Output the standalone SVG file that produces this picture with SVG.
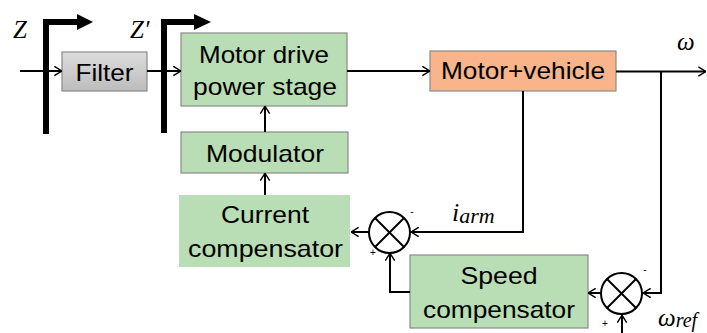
<svg xmlns="http://www.w3.org/2000/svg" width="707" height="333" viewBox="0 0 707 333">
<defs>
<linearGradient id="gray" x1="0" y1="0" x2="0" y2="1">
<stop offset="0" stop-color="#dcdcdc"/>
<stop offset="1" stop-color="#bcbcbc"/>
</linearGradient>
<marker id="arr" markerUnits="userSpaceOnUse" viewBox="0 0 10 12" refX="9.5" refY="6" markerWidth="9" markerHeight="11" orient="auto">
<path d="M1,0.8 L9.3,6 L1,11.2" fill="none" stroke="#000" stroke-width="1.6"/>
</marker>
</defs>
<style>
.box{stroke:#8a8a8a;stroke-width:1.2}
.green{fill:#b9ddb4}
.lbl{font-family:"Liberation Sans",Arial,sans-serif;font-size:24px;fill:#000;text-anchor:middle}
.math{font-family:"Liberation Serif","DejaVu Serif",serif;font-style:italic;fill:#000}
.sign{font-family:"Liberation Sans",Arial,sans-serif;font-size:10px;fill:#000;text-anchor:middle}
.conn{fill:none;stroke:#000;stroke-width:2;marker-end:url(#arr)}
.thick{fill:none;stroke:#000;stroke-width:6;stroke-linejoin:miter}
.sum circle{fill:#fff;stroke:#000;stroke-width:2}
.sum line{stroke:#000;stroke-width:2}
</style>
<rect width="707" height="333" fill="#fff"/>

<g id="z-marker">
<path class="thick" d="M46,134 V22 H78"/>
<polygon points="77,14 93,22 77,30" fill="#000"/>
<text class="math" x="13" y="38" font-size="25">Z</text>
</g>
<g id="zprime-marker">
<path class="thick" d="M164,133 V22 H195"/>
<polygon points="194,14 211,22 194,30" fill="#000"/>
<text class="math" x="130" y="38" font-size="25">Z′</text>
</g>

<g id="filter">
<rect class="box" x="62" y="52" width="85" height="39" fill="url(#gray)" stroke="#999"/>
<text class="lbl" x="104.5" y="81" textLength="58" lengthAdjust="spacingAndGlyphs">Filter</text>
</g>
<g id="motor-drive">
<rect class="box green" x="181" y="33" width="166" height="73"/>
<text class="lbl" x="264" y="63" textLength="130" lengthAdjust="spacingAndGlyphs">Motor drive</text>
<text class="lbl" x="265" y="95" textLength="144" lengthAdjust="spacingAndGlyphs">power stage</text>
</g>
<g id="motor-vehicle">
<rect class="box" x="430" y="51" width="186" height="40" fill="#f8b48b"/>
<text class="lbl" x="523" y="79" textLength="164" lengthAdjust="spacingAndGlyphs">Motor+vehicle</text>
</g>
<g id="modulator">
<rect class="box green" x="181" y="132" width="167" height="41"/>
<text class="lbl" x="265" y="162" textLength="118" lengthAdjust="spacingAndGlyphs">Modulator</text>
</g>
<g id="current-compensator">
<rect class="green" x="179" y="195" width="171" height="72"/>
<text class="lbl" x="265" y="223" textLength="88" lengthAdjust="spacingAndGlyphs">Current</text>
<text class="lbl" x="265.5" y="257" textLength="155" lengthAdjust="spacingAndGlyphs">compensator</text>
</g>
<g id="speed-compensator">
<rect class="box green" x="410" y="255" width="178" height="73"/>
<text class="lbl" x="499" y="284" textLength="77" lengthAdjust="spacingAndGlyphs">Speed</text>
<text class="lbl" x="499" y="318" textLength="152" lengthAdjust="spacingAndGlyphs">compensator</text>
</g>
<g id="sum-current" class="sum">
<circle cx="389.5" cy="232.5" r="20.5"/>
<line x1="375" y1="218" x2="404" y2="247"/>
<line x1="404" y1="218" x2="375" y2="247"/>
<text class="sign" x="412" y="215">-</text>
<text class="sign" x="373" y="256">+</text>
</g>
<g id="sum-speed" class="sum">
<circle cx="621.5" cy="293.5" r="20.5"/>
<line x1="607" y1="279" x2="636" y2="308"/>
<line x1="636" y1="279" x2="607" y2="308"/>
<text class="sign" x="645" y="273">-</text>
<text class="sign" x="605" y="327">+</text>
</g>

<g id="connectors">
<path class="conn" d="M20,71 H62" stroke-width="1.5"/>
<path class="conn" d="M147,71 H181"/>
<path class="conn" d="M347,71 H430"/>
<path class="conn" d="M616,71.5 H706"/>
<path class="conn" d="M523,91 V232 H411"/>
<path class="conn" d="M661,71.5 V293 H643"/>
<path class="conn" d="M622,333 V315"/>
<path class="conn" d="M600.5,293 H588"/>
<path class="conn" d="M410,292 H390 V253"/>
<path class="conn" d="M369,232 H351"/>
<path class="conn" d="M265,195 V173"/>
<path class="conn" d="M265,132 V106"/>
</g>

<g id="labels">
<text class="math" x="677" y="50" font-size="25">ω</text>
<text class="math" x="452" y="221" font-size="26">i<tspan font-size="22" dy="2">arm</tspan></text>
<text class="math" x="658" y="326" font-size="25">ω<tspan font-size="20" dy="1">ref</tspan></text>
</g>
</svg>
